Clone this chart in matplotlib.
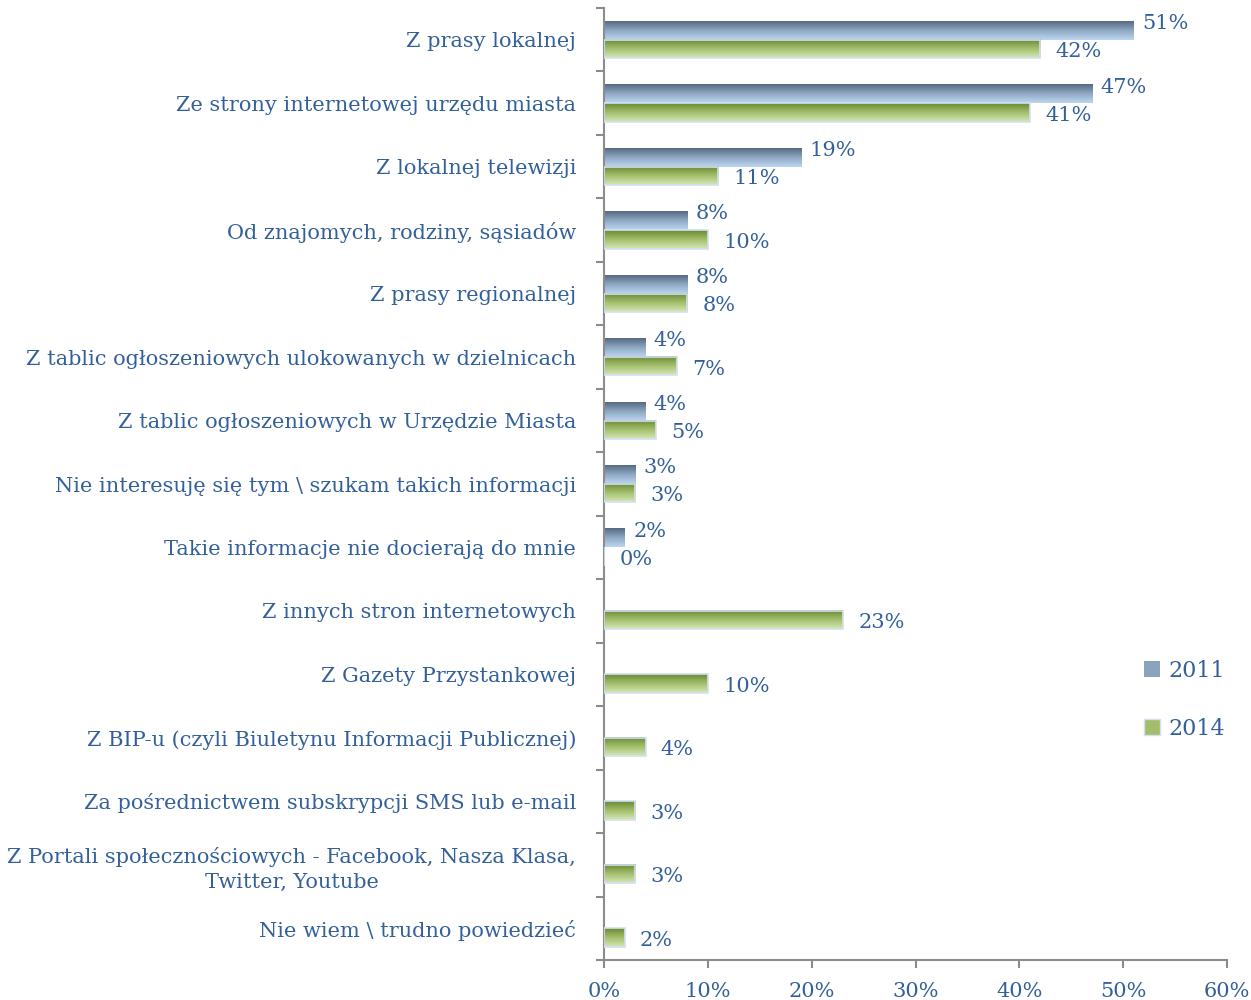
"""Horizontal grouped bar chart: sources of information about the city, 2011 vs 2014."""

import numpy as np
import matplotlib
import matplotlib.pyplot as plt
from matplotlib.patches import Patch
from matplotlib.colors import LinearSegmentedColormap

matplotlib.use("Agg")

categories = [
    "Z prasy lokalnej",
    "Ze strony internetowej urzędu miasta",
    "Z lokalnej telewizji",
    "Od znajomych, rodziny, sąsiadów",
    "Z prasy regionalnej",
    "Z tablic ogłoszeniowych ulokowanych w dzielnicach",
    "Z tablic ogłoszeniowych w Urzędzie Miasta",
    "Nie interesuję się tym \\ szukam takich informacji",
    "Takie informacje nie docierają do mnie",
    "Z innych stron internetowych",
    "Z Gazety Przystankowej",
    "Z BIP-u (czyli Biuletynu Informacji Publicznej)",
    "Za pośrednictwem subskrypcji SMS lub e-mail",
    "Z Portali społecznościowych - Facebook, Nasza Klasa,\nTwitter, Youtube",
    "Nie wiem \\ trudno powiedzieć",
]
values_2011 = [51, 47, 19, 8, 8, 4, 4, 3, 2, None, None, None, None, None, None]
values_2014 = [42, 41, 11, 10, 8, 7, 5, 3, 0, 23, 10, 4, 3, 3, 2]
series_labels = ["2011", "2014"]
x_ticks = [0, 10, 20, 30, 40, 50, 60]

TEXT = "#33609A"
AXIS = "#8C8C8C"
FONT = "DejaVu Serif"

cmap_2011 = LinearSegmentedColormap.from_list("c2011", ["#566A82", "#8FA8C4", "#BCD5F0"])
cmap_2014 = LinearSegmentedColormap.from_list("c2014", ["#6A8A35", "#A4BF6C", "#D6E6B6"])

fig = plt.figure(figsize=(12.51, 10), dpi=100)
ax = fig.add_axes([604 / 1251, 40 / 1000, 623 / 1251, 952 / 1000])

n = len(categories)
ypos = np.arange(n)[::-1].astype(float)
bar_h = 0.29
grad = np.linspace(0, 1, 64).reshape(-1, 1)


def draw_bars(vals, offset, cmap, edge):
    ys, ws = [], []
    for y, v in zip(ypos, vals):
        if v is None:
            continue
        ys.append(y + offset)
        ws.append(v)
    bars = ax.barh(ys, ws, height=bar_h, facecolor="none", edgecolor=edge,
                   linewidth=1.2, zorder=3)
    for b in bars:
        x0, y0 = b.get_x(), b.get_y()
        w, h = b.get_width(), b.get_height()
        if w <= 0:
            continue
        ax.imshow(grad, cmap=cmap, origin="upper", aspect="auto",
                  extent=(x0, x0 + w, y0, y0 + h), zorder=2, interpolation="bilinear")
    return ys, ws


ys11, ws11 = draw_bars(values_2011, bar_h / 2, cmap_2011, "none")
ys14, ws14 = draw_bars(values_2014, -bar_h / 2, cmap_2014, "#D3E0F2")

for y, v in zip(ys11, ws11):
    ax.annotate(f"{v}%", (v, y), xytext=(6, 5), textcoords="offset points",
                ha="left", va="center", color=TEXT, fontsize=15, family=FONT)
for y, v in zip(ys14, ws14):
    ax.annotate(f"{v}%", (v, y), xytext=(11, -2), textcoords="offset points",
                ha="left", va="center", color=TEXT, fontsize=15, family=FONT)

ax.set_xlim(0, 60)
ax.set_ylim(-0.5, n - 0.5)
ax.set_xticks(x_ticks)
ax.set_xticklabels([f"{t}%" for t in x_ticks])

# category labels centred, tick marks at category boundaries
ax.set_yticks(ypos)
ax.set_yticklabels(categories, multialignment="center", linespacing=1.35)
ax.set_yticks(np.arange(-0.5, n, 1.0), minor=True)
ax.tick_params(axis="y", which="major", length=0, pad=20, labelcolor=TEXT,
               labelsize=15)
ax.tick_params(axis="y", which="minor", length=6, width=1.5, color=AXIS)
ax.tick_params(axis="x", length=6, width=1.5, color=AXIS, labelcolor=TEXT,
               labelsize=15, pad=10)
for lab in ax.get_yticklabels() + ax.get_xticklabels():
    lab.set_family(FONT)

for s in ["top", "right"]:
    ax.spines[s].set_visible(False)
for s in ["left", "bottom"]:
    ax.spines[s].set_color(AXIS)
    ax.spines[s].set_linewidth(1.5)

handles = [Patch(facecolor="#8CA3BE", edgecolor="none"),
           Patch(facecolor="#A3BD6A", edgecolor="#D3E0F2")]
fig.legend(handles, series_labels, loc="upper left",
           bbox_to_anchor=(1124 / 1251, 1 - 640 / 1000), frameon=False,
           handlelength=0.7, handleheight=0.7, handletextpad=0.4,
           labelspacing=1.6, prop={"family": FONT, "size": 16},
           labelcolor=TEXT)

fig.savefig("out.png", dpi=100, facecolor="white")
plt.close(fig)
